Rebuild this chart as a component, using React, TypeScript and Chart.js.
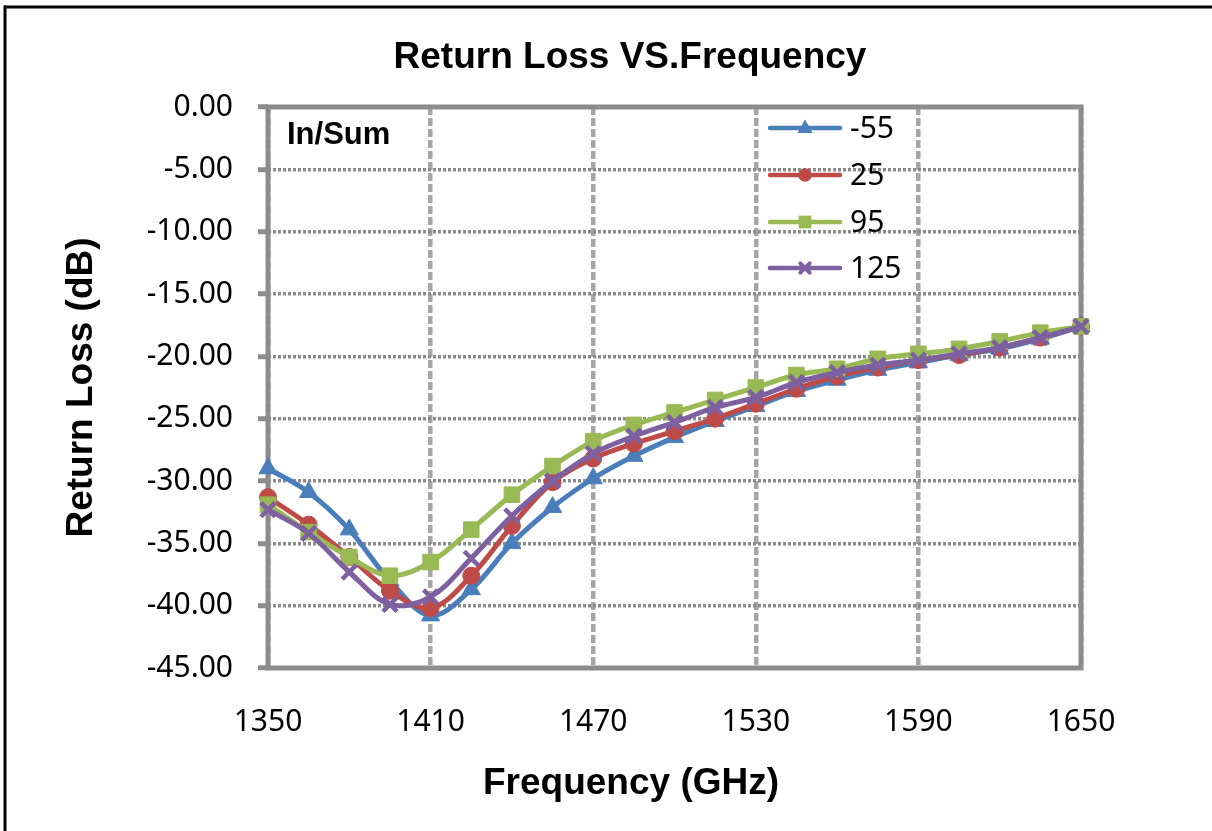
import React, { useEffect, useRef } from "react";
import { Chart, registerables } from "chart.js";

Chart.register(...registerables);

const frequencies = [1350, 1365, 1380, 1395, 1410, 1425, 1440, 1455, 1470, 1485, 1500, 1515, 1530, 1545, 1560, 1575, 1590, 1605, 1620, 1635, 1650];
const seriesNames = ["-55", "25", "95", "125"];
const m55 = [-29.0, -30.9, -33.9, -38.0, -40.8, -38.7, -35.0, -32.1, -29.8, -28.0, -26.5, -25.2, -24.0, -22.8, -21.9, -21.1, -20.5, -19.9, -19.4, -18.6, -17.6];
const p25 = [-31.3, -33.5, -36.1, -38.8, -40.2, -37.6, -33.6, -30.1, -28.2, -27.0, -26.0, -25.0, -23.8, -22.6, -21.6, -20.9, -20.3, -19.9, -19.3, -18.5, -17.6];
const p95 = [-31.9, -34.1, -36.1, -37.6, -36.5, -33.9, -31.1, -28.8, -26.8, -25.5, -24.5, -23.5, -22.5, -21.5, -21.0, -20.2, -19.8, -19.4, -18.8, -18.1, -17.6];
const p125 = [-32.3, -34.2, -37.3, -39.9, -39.3, -36.2, -32.8, -30.0, -27.8, -26.4, -25.3, -24.1, -23.3, -22.1, -21.3, -20.7, -20.3, -19.8, -19.3, -18.5, -17.6];
const xTicks = [1350, 1410, 1470, 1530, 1590, 1650];
const yTicks = [0, -5, -10, -15, -20, -25, -30, -35, -40, -45];

const colors = ["#4A7EBB", "#BE4B48", "#98B954", "#7D60A0"];
const styles = ["triangle", "circle", "rect", "crossRot"];
const radii = [10.5, 8.5, 11, 10];

const BOLD = "Liberation Sans, Arial, sans-serif";
const TICKFONT = "Noto Sans, sans-serif";

function drawMarker(ctx: CanvasRenderingContext2D, style: string, x: number, y: number, s: number, color: string) {
  ctx.save();
  ctx.fillStyle = color;
  ctx.strokeStyle = color;
  ctx.beginPath();
  if (style === "triangle") {
    ctx.moveTo(x, y - s);
    ctx.lineTo(x + s * 0.9, y + s * 0.6);
    ctx.lineTo(x - s * 0.9, y + s * 0.6);
    ctx.closePath();
    ctx.fill();
  } else if (style === "circle") {
    ctx.arc(x, y, s * 0.8, 0, Math.PI * 2);
    ctx.fill();
  } else if (style === "rect") {
    ctx.rect(x - s * 0.75, y - s * 0.75, s * 1.5, s * 1.5);
    ctx.fill();
  } else {
    ctx.lineWidth = 4;
    const d = s * 0.55;
    ctx.moveTo(x - d, y - d);
    ctx.lineTo(x + d, y + d);
    ctx.moveTo(x + d, y - d);
    ctx.lineTo(x - d, y + d);
    ctx.stroke();
  }
  ctx.restore();
}

const decorPlugin = {
  id: "decor",
  beforeDraw(chart: any) {
    const ctx = chart.ctx as CanvasRenderingContext2D;
    ctx.save();
    ctx.fillStyle = "#ffffff";
    ctx.fillRect(0, 0, chart.width, chart.height);
    ctx.fillStyle = "#000000";
    ctx.fillRect(4, 5.5, chart.width, 3);
    ctx.fillRect(3.5, 5.5, 3, chart.height);
    ctx.restore();
  },
  beforeDatasetsDraw(chart: any) {
    const ctx = chart.ctx as CanvasRenderingContext2D;
    const a = chart.chartArea;
    ctx.save();
    ctx.strokeStyle = "#8c8c8c";
    ctx.lineWidth = 5;
    ctx.strokeRect(a.left, a.top, a.right - a.left, a.bottom - a.top);
    ctx.restore();
  },
  afterDraw(chart: any) {
    const ctx = chart.ctx as CanvasRenderingContext2D;
    const a = chart.chartArea;
    ctx.save();
    ctx.fillStyle = "#000000";
    ctx.textAlign = "center";
    ctx.textBaseline = "middle";
    ctx.font = `bold 37px ${BOLD}`;
    ctx.fillText("Return Loss VS.Frequency", 630, 58);
    ctx.fillText("Frequency (GHz)", 631, 784);
    ctx.save();
    ctx.translate(82, (a.top + a.bottom) / 2);
    ctx.rotate(-Math.PI / 2);
    ctx.fillText("Return Loss (dB)", 0, 0);
    ctx.restore();
    ctx.textAlign = "left";
    ctx.font = `bold 31px ${BOLD}`;
    ctx.fillText("In/Sum", 287, 135);

    // legend
    const lx0 = 770, lx1 = 840, tx = 850;
    const rowY = [128, 175, 222, 268];
    ctx.font = `30px ${TICKFONT}`;
    chart.data.datasets.forEach((ds: any, i: number) => {
      const y = rowY[i];
      ctx.strokeStyle = ds.borderColor;
      ctx.lineWidth = 4.5;
      ctx.lineCap = "round";
      ctx.beginPath();
      ctx.moveTo(lx0, y);
      ctx.lineTo(lx1, y);
      ctx.stroke();
      drawMarker(ctx, ds.pointStyle, (lx0 + lx1) / 2, y, 8.5, ds.borderColor);
      ctx.fillStyle = "#000000";
      ctx.fillText(ds.label, tx, y + 1);
    });
    ctx.restore();
  },
};

export default function App() {
  const ref = useRef<HTMLCanvasElement | null>(null);
  useEffect(() => {
    if (!ref.current) return;
    const all = [m55, p25, p95, p125];
    const chart = new Chart(ref.current, {
      type: "line",
      data: {
        datasets: all.map((vals, i) => ({
          label: seriesNames[i],
          data: frequencies.map((f, j) => ({ x: f, y: vals[j] })),
          order: all.length - i,
          clip: false,
          borderColor: colors[i],
          backgroundColor: colors[i],
          borderWidth: 5,
          pointStyle: styles[i] as any,
          pointRadius: radii[i],
          pointBorderWidth: styles[i] === "crossRot" ? 4.5 : 1,
          pointBorderColor: colors[i],
          pointBackgroundColor: colors[i],
          tension: 0.35,
          fill: false,
        })),
      },
      plugins: [decorPlugin],
      options: {
        responsive: false,
        animation: false,
        devicePixelRatio: 1,
        layout: { padding: { top: 107, right: 131, left: 0, bottom: 0 } },
        plugins: {
          legend: { display: false },
          title: { display: false },
          tooltip: { enabled: false },
        },
        scales: {
          x: {
            type: "linear",
            min: 1350,
            max: 1650,
            afterFit: (s: any) => { s.height = 163; },
            afterBuildTicks: (s: any) => { s.ticks = xTicks.map((v) => ({ value: v })); },
            ticks: {
              padding: 36,
              color: "#000000",
              font: { family: TICKFONT, size: 30 },
              maxRotation: 0,
              callback: (v: any) => String(v),
            },
            grid: {
              color: "#a6a6a6",
              lineWidth: 4.5,
              drawTicks: false,
            },
            border: { display: false, dash: [8, 3] },
          },
          y: {
            type: "linear",
            min: -45,
            max: 0,
            afterFit: (s: any) => { s.width = 268; },
            afterBuildTicks: (s: any) => { s.ticks = yTicks.map((v) => ({ value: v })); },
            ticks: {
              padding: 25,
              color: "#000000",
              font: { family: TICKFONT, size: 30 },
              callback: (v: any) => (Math.abs(v) < 1e-9 ? "0.00" : Number(v).toFixed(2)),
            },
            grid: {
              color: "#8a8a8a",
              lineWidth: 3.5,
              tickLength: 10,
              tickColor: "#8c8c8c",
              tickWidth: 5,
              tickBorderDash: [],
            },
            border: { display: false, dash: [3, 2] },
          },
        },
      } as any,
    });
    return () => chart.destroy();
  }, []);
  return (
    <div style={{ position: "fixed", left: 0, top: 0, width: 1212, height: 831, background: "#fff" }}>
      <canvas ref={ref} width={1212} height={831} style={{ display: "block" }} />
    </div>
  );
}
